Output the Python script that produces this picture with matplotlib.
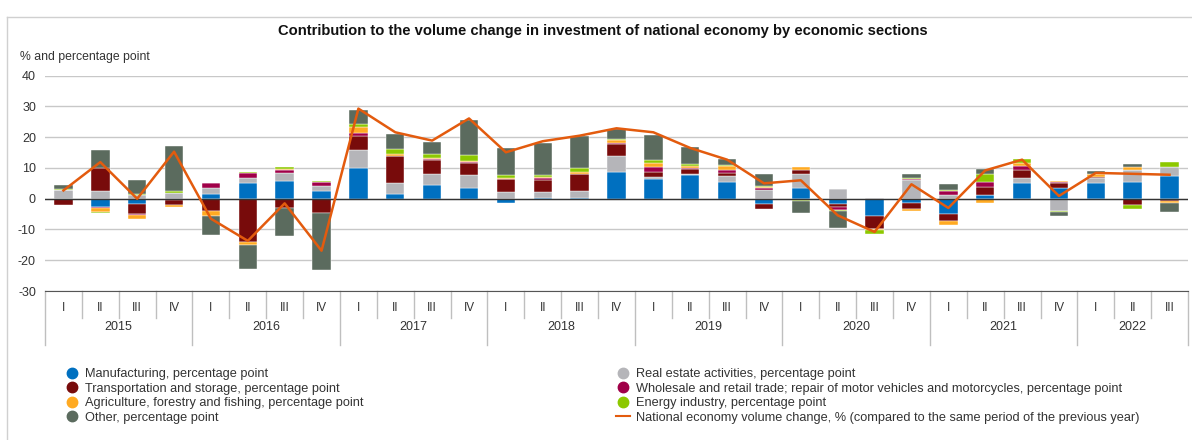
import numpy as np
import matplotlib.pyplot as plt
from matplotlib.lines import Line2D

plt.rcParams['font.family'] = ['Liberation Sans', 'DejaVu Sans']
plt.rcParams['axes.unicode_minus'] = False

quarters = ['I', 'II', 'III', 'IV'] * 7 + ['I', 'II', 'III']
years = ['2015', '2016', '2017', '2018', '2019', '2020', '2021', '2022']

manufacturing = [0.0, -2.7, -1.8, -0.5, 1.4, 5.0, 5.9, 2.5, 10.0, 1.4, 4.5, 3.6, -1.4, 0.1, 0.3, 8.6,
                 6.5, 7.8, 5.6, -1.8, 3.6, -1.8, -5.6, -1.3, -4.9, 1.1, 5.0, 3.5, 5.2, 5.6, 7.3]
real_estate = [2.7, 2.5, 1.1, 1.9, 2.2, 1.9, 2.5, 1.6, 5.7, 3.8, 3.5, 4.0, 2.2, 2.2, 2.2, 5.2,
               0.5, 0.2, 1.7, 3.0, 4.5, 3.2, 0.3, 6.0, 1.1, 0.0, 1.6, -4.0, 1.6, 3.6, 3.0]
transport = [-2.0, 7.5, -3.2, -1.6, -4.1, -14.2, -3.1, -4.5, 4.7, 8.6, 4.7, 4.1, 4.1, 3.9, 5.4, 4.1,
             1.6, 1.7, 1.1, -1.6, 1.4, -1.0, -4.1, -2.2, -2.5, 2.8, 2.9, 1.5, 0.3, -2.2, -0.9]
wholesale = [0.0, -0.2, -0.3, 0.0, 1.4, 1.4, 1.1, 1.4, 0.9, 0.2, 0.3, 0.1, 0.2, 0.5, 0.2, 0.2,
             1.7, 0.2, 1.1, 0.6, -0.5, -0.9, -0.3, 0.4, 1.4, 1.6, 1.1, 0.3, -0.5, 0.1, 0.1]
agriculture = [0.1, -1.4, -1.3, -0.7, -1.5, -0.7, 0.2, 0.1, 1.9, 0.4, 0.3, 0.5, 0.2, 0.4, 0.5, 1.0,
               1.2, 0.9, 1.1, 0.2, 0.9, 0.1, -0.3, -0.4, -1.3, -1.3, 0.9, 0.6, 0.8, 0.9, -0.4]
energy = [0.3, -0.3, 0.3, 0.6, 0.1, 0.4, 0.5, 0.1, 1.1, 1.7, 1.4, 2.0, 1.1, 0.5, 1.3, 0.3,
          1.0, 0.4, 0.3, 0.4, -0.3, -0.3, -1.3, 0.4, 0.4, 2.6, 1.5, -0.3, 0.2, -1.3, 1.5]
other = [1.5, 5.7, 4.8, 14.7, -6.3, -8.0, -8.9, -18.7, 4.5, 4.9, 3.9, 11.4, 8.6, 10.5, 10.5, 3.3,
         8.3, 5.5, 1.9, 4.0, -3.9, -5.4, 0.0, 1.4, 1.9, 1.7, -0.5, -1.3, 0.8, 1.0, -3.0]
national = [2.7, 11.9, 0.0, 15.3, -6.5, -13.7, -1.5, -16.9, 29.3, 21.6, 18.9, 26.1, 15.1, 18.7, 20.5, 22.9,
            21.6, 16.5, 12.7, 5.0, 6.0, -5.4, -10.8, 4.7, -3.0, 9.2, 12.7, 0.9, 8.4, 8.1, 7.8]

# stacking order (bottom to top) and colours
series = [
    ('Manufacturing, percentage point', manufacturing, '#0070C0'),
    ('Real estate activities, percentage point', real_estate, '#B5B5B9'),
    ('Transportation and storage, percentage point', transport, '#780B0B'),
    ('Wholesale and retail trade; repair of motor vehicles and motorcycles, percentage point', wholesale, '#A00048'),
    ('Agriculture, forestry and fishing, percentage point', agriculture, '#FFAA22'),
    ('Energy industry, percentage point', energy, '#8DC800'),
    ('Other, percentage point', other, '#5B6B5E'),
]
line_label = 'National economy volume change, % (compared to the same period of the previous year)'
line_color = '#E35B0E'
text_color = '#333333'

fig = plt.figure(figsize=(11.92, 4.4), dpi=100)
ax = fig.add_axes([45 / 1192, 1 - 291 / 440, (1188 - 45) / 1192, (291 - 75.7) / 440])

x = np.arange(len(quarters))
pos_bottom = np.zeros(len(x))
neg_bottom = np.zeros(len(x))
for name, vals, color in series:
    v = np.array(vals)
    bottom = np.where(v >= 0, pos_bottom, neg_bottom)
    ax.bar(x, v, 0.5, bottom=bottom, color=color, edgecolor='white', linewidth=0.3, zorder=2)
    pos_bottom += np.where(v >= 0, v, 0)
    neg_bottom += np.where(v < 0, v, 0)

ax.plot(x, national, color=line_color, linewidth=1.8, zorder=4)
ax.axhline(0, color='#333333', linewidth=1, zorder=3)

ax.set_xlim(-0.5, len(x) - 0.5)
ax.set_ylim(-30, 40)
ax.set_yticks(range(-30, 41, 10))
ax.grid(axis='y', color='#C8C8C8', linewidth=1, zorder=0)
for s in ['top', 'right', 'left']:
    ax.spines[s].set_visible(False)
ax.spines['bottom'].set_color('#555555')
ax.tick_params(axis='y', length=0, pad=6.5, labelsize=9, labelcolor=text_color)
ax.tick_params(axis='x', length=0, pad=8, labelsize=8.5, labelcolor=text_color)
ax.set_xticks(x)
ax.set_xticklabels(quarters)

# category separators and year labels
trans = ax.get_xaxis_transform()
starts = [0, 4, 8, 12, 16, 20, 24, 28]
for i in range(len(x) + 1):
    is_year = i in starts or i == len(x)
    ax.plot([i - 0.5, i - 0.5], [0, -0.25 if is_year else -0.125], transform=trans,
            color='#BFBFBF', linewidth=1, clip_on=False)
for yr, s in zip(years, starts):
    e = min(s + 4, len(x))
    ax.text((s + e - 1) / 2, -0.168, yr, transform=trans, ha='center', va='center',
            fontsize=9, color=text_color)

fig.text(0.506, 1 - 31 / 440, 'Contribution to the volume change in investment of national economy by economic sections',
         ha='center', va='center', fontsize=10.6, fontweight='bold', color='#111111')
fig.text(20 / 1192, 1 - 57 / 440, '% and percentage point', ha='left', va='center',
         fontsize=8.8, color=text_color)

# chart frame
fig.add_artist(Line2D([7 / 1192, 7 / 1192], [0, 1 - 17 / 440], color='#D0D0D0', linewidth=1))
fig.add_artist(Line2D([7 / 1192, 1], [1 - 17 / 440, 1 - 17 / 440], color='#D0D0D0', linewidth=1))

def handle(color):
    return Line2D([], [], marker='o', linestyle='', markersize=7.5, color=color)

left = [series[0], series[2], series[4], series[6]]
right = [series[1], series[3], series[5]]
leg_kw = dict(loc='upper left', frameon=False, fontsize=9.2, labelspacing=0.2,
              handletextpad=0.45, handlelength=1.1, borderaxespad=0)
fig.legend([handle(c) for _, _, c in left], [n for n, _, _ in left],
           bbox_to_anchor=(60 / 1192, 1 - 363 / 440), labelcolor=text_color, **leg_kw)
fig.legend([handle(c) for _, _, c in right] + [Line2D([], [], color=line_color, linewidth=1.5)],
           [n for n, _, _ in right] + [line_label],
           bbox_to_anchor=(611 / 1192, 1 - 363 / 440), labelcolor=text_color, **leg_kw)

fig.savefig('out.png', dpi=100)
